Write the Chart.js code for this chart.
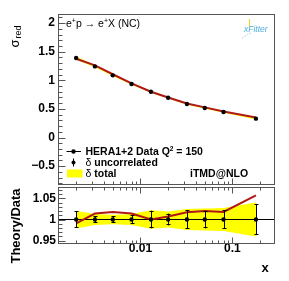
<!DOCTYPE html>
<html><head><meta charset="utf-8">
<script src="https://cdn.jsdelivr.net/npm/chart.js@4.4.0/dist/chart.umd.min.js"></script>
<style>
html,body{margin:0;padding:0;background:#fff;}
#wrap{position:relative;width:289px;height:281px;}
canvas{position:absolute;left:0;top:0;display:block;}
</style></head><body>
<div id="wrap">
<canvas id="topc" width="289" height="281"></canvas>
<canvas id="botc" width="289" height="281"></canvas>
</div>
<script>
// ---- data ----
const xValues     = [0.002, 0.0032, 0.005, 0.008, 0.013, 0.02, 0.032, 0.05, 0.08, 0.18];
const sigmaData   = [1.39, 1.244, 1.087, 0.935, 0.80, 0.696, 0.586, 0.517, 0.447, 0.33];
const theoryRatio = [0.991, 1.014, 1.018, 1.014, 1.000, 1.007, 1.017, 1.020, 1.018, 1.057];
const relUncorr   = [0.019, 0.008, 0.008, 0.011, 0.021, 0.014, 0.022, 0.021, 0.022, 0.037];
const relTotal    = [0.021, 0.013, 0.011, 0.013, 0.022, 0.019, 0.025, 0.026, 0.027, 0.040];
const topYTicks   = [-0.5, 0, 0.5, 1, 1.5, 2];
const topYLabels  = ['\u22120.5', '0', '0.5', '1', '1.5', '2'];
const ratioYTicks = [0.95, 1, 1.05];
const ratioYLabels= ['0.95', '1', '1.05'];
const xTicks      = [0.01, 0.1];
const xTickLabels = ['0.01', '0.1'];

const X_MIN = 0.00127, X_MAX = 0.29;
const TOP_MIN = -0.83, TOP_MAX = 2.16;
const R_MIN = 0.942, R_MAX = 1.077;

const FONT = '"Liberation Sans", Arial, Helvetica, sans-serif';
const RED = '#b01818', YEL = '#ffff00';

function pts(ys){ return xValues.map((x,i)=>({x, y: ys[i]})); }

function minorLinear(min,max,step){
  const out=[]; const s=Math.ceil(min/step-1e-9), e=Math.floor(max/step+1e-9);
  for(let i=s;i<=e;i++) out.push(+(i*step).toFixed(6)); return out;
}
function isMajor(v,m){ return Math.abs(v/m-Math.round(v/m))<1e-6; }
function logTicks(min,max){
  const out=[];
  for(let d=Math.floor(Math.log10(min)); d<=Math.ceil(Math.log10(max)); d++)
    for(let k=1;k<=9;k++){ const v=k*Math.pow(10,d); if(v>=min&&v<=max) out.push({v,major:k===1}); }
  return out;
}

const framePlugin = {
  id:'frame',
  afterDraw(chart, args, o){
    const {ctx, chartArea:a} = chart; const x=chart.scales.x, y=chart.scales.y;
    ctx.save();
    ctx.strokeStyle='#555'; ctx.lineWidth=1;
    const L=Math.round(a.left)+0.5, R=Math.round(a.right)-0.5, T=Math.round(a.top)+0.5, B=Math.round(a.bottom)-0.5;
    ctx.strokeRect(L,T,R-L,B-T);
    ctx.beginPath();
    minorLinear(y.min,y.max,o.minorStep).forEach(v=>{
      const py=Math.round(y.getPixelForValue(v))+0.5; const len=isMajor(v,o.majorStep)?7:4;
      ctx.moveTo(L,py); ctx.lineTo(L+len,py);
    });
    logTicks(x.min,x.max).forEach(t=>{
      const px=Math.round(x.getPixelForValue(t.v))+0.5; const len=t.major?6:3;
      if(o.xBottom){ ctx.moveTo(px,B); ctx.lineTo(px,B-len); }
      if(o.xTop){ ctx.moveTo(px,T); ctx.lineTo(px,T+len); }
    });
    ctx.stroke();
    ctx.restore();
  }
};

function yAxis(min,max,ticks,labels,pad){
  return {
    type:'linear', min, max, bounds:'data',
    afterBuildTicks: s => { s.ticks = ticks.map(v=>({value:v})); },
    afterFit: s => { s.width = 58; },
    grid:{display:false, drawTicks:false}, border:{display:false},
    ticks:{ autoSkip:false, padding:pad, color:'#000',
      font:{family:FONT, size:12, weight:'bold'},
      callback: v => labels[ticks.indexOf(v)] }
  };
}

// ---------- top panel ----------
const topText = {
  id:'topText',
  afterDraw(chart){
    const ctx=chart.ctx; ctx.save(); ctx.fillStyle='#000'; ctx.textBaseline='alphabetic';
    let xx=66; const by=27;
    const F='10.5px '+FONT, S='7px '+FONT;
    const seg=(t,f,dy)=>{ ctx.font=f; ctx.fillText(t,xx,by+dy); xx+=ctx.measureText(t).width; };
    seg('e',F,0); seg('+',S,-4); seg('p \u2192 e',F,0); seg('+',S,-4); seg('X (NC)',F,0);

    ctx.save(); ctx.translate(19,47.5); ctx.rotate(-Math.PI/2);
    ctx.font='13px '+FONT; ctx.fillText('\u03c3',0,0);
    const w=ctx.measureText('\u03c3').width;
    ctx.font='9px '+FONT; ctx.fillText('red',w+1,1.5);
    ctx.restore();

    ctx.save();
    ctx.strokeStyle='#f2cf3a'; ctx.lineWidth=1.2;
    ctx.beginPath(); ctx.moveTo(249.5,19); ctx.lineTo(249.5,27); ctx.stroke();
    ctx.strokeStyle='#8cc8ec'; ctx.setLineDash([1.5,1.5]); ctx.lineWidth=1;
    ctx.beginPath(); ctx.moveTo(251,33); ctx.quadraticCurveTo(246,35,242,38.5); ctx.stroke();
    ctx.setLineDash([]);
    ctx.fillStyle='#4eaede'; ctx.font='italic 8.5px '+FONT;
    ctx.fillText('xFitter',244,32);
    ctx.restore();

    ctx.strokeStyle='#000'; ctx.fillStyle='#000'; ctx.lineWidth=1;
    ctx.beginPath(); ctx.moveTo(66.5,151.5); ctx.lineTo(81,151.5); ctx.stroke();
    ctx.beginPath(); ctx.arc(73.5,151.5,2.2,0,Math.PI*2); ctx.fill();
    ctx.beginPath(); ctx.moveTo(73.5,158.5); ctx.lineTo(73.5,166.5); ctx.stroke();
    ctx.beginPath(); ctx.arc(73.5,162.5,2,0,Math.PI*2); ctx.fill();
    ctx.fillStyle=YEL; ctx.fillRect(67,169.5,15.5,8);
    ctx.fillStyle='#000';
    const LB='bold 10.5px '+FONT, LR='10.5px '+FONT;
    xx=85.5;
    const lseg=(t,f,y0,dy)=>{ ctx.font=f; ctx.fillText(t,xx,y0+(dy||0)); xx+=ctx.measureText(t).width; };
    lseg('HERA1+2 Data Q',LB,155); lseg('2','bold 6.5px '+FONT,155,-4.5); lseg(' = 150',LB,155);
    xx=85.5; lseg('\u03b4',LR,166); lseg(' uncorrelated',LB,166);
    xx=85.5; lseg('\u03b4',LR,177); lseg(' total',LB,177);
    ctx.font=LB; ctx.fillText('iTMD@NLO',190,177);
    ctx.restore();
  }
};

new Chart(document.getElementById('topc'), {
  type:'line',
  data:{ datasets:[
    { data:pts(sigmaData), showLine:false, pointRadius:2.2, pointBackgroundColor:'#000', pointBorderWidth:0 },
    { data:pts(sigmaData.map((s,i)=>s*theoryRatio[i])), borderColor:RED, borderWidth:2, pointRadius:0, fill:false },
    { data:pts(sigmaData.map((s,i)=>s*(1+relTotal[i]))), borderWidth:0, pointRadius:0, fill:'+1', backgroundColor:YEL },
    { data:pts(sigmaData.map((s,i)=>s*(1-relTotal[i]))), borderWidth:0, pointRadius:0, fill:false }
  ]},
  options:{
    responsive:false, animation:false, events:[],
    layout:{padding:{left:0, top:14, right:14, bottom:96}},
    elements:{line:{tension:0}},
    plugins:{ legend:{display:false}, tooltip:{enabled:false},
      frame:{minorStep:0.1, majorStep:0.5, xBottom:true, xTop:false} },
    scales:{
      x:{ type:'logarithmic', min:X_MIN, max:X_MAX, bounds:'data', display:false },
      y: yAxis(TOP_MIN, TOP_MAX, topYTicks, topYLabels, 3)
    }
  },
  plugins:[framePlugin, topText]
});

// ---------- ratio panel ----------
const botText = {
  id:'botText',
  beforeDatasetDraw(chart, args){
    if(args.index!==0) return;
    const ctx=chart.ctx, x=chart.scales.x, y=chart.scales.y;
    ctx.save(); ctx.strokeStyle='#000'; ctx.lineWidth=1; ctx.beginPath();
    xValues.forEach((xv,i)=>{
      const px=Math.round(x.getPixelForValue(xv))+0.5;
      const y1=y.getPixelForValue(1+relUncorr[i]), y2=y.getPixelForValue(1-relUncorr[i]);
      ctx.moveTo(px,y1); ctx.lineTo(px,y2);
      ctx.moveTo(px-2,Math.round(y1)+0.5); ctx.lineTo(px+2,Math.round(y1)+0.5);
      ctx.moveTo(px-2,Math.round(y2)-0.5); ctx.lineTo(px+2,Math.round(y2)-0.5);
    });
    ctx.stroke(); ctx.restore();
  },
  afterDraw(chart){
    const ctx=chart.ctx; ctx.save(); ctx.fillStyle='#000';
    ctx.save(); ctx.translate(20,226); ctx.rotate(-Math.PI/2);
    ctx.font='bold 13px '+FONT; ctx.textAlign='center'; ctx.textBaseline='alphabetic';
    ctx.fillText('Theory/Data',0,0);
    ctx.restore();
    ctx.font='bold 13px '+FONT; ctx.textAlign='center'; ctx.textBaseline='alphabetic';
    ctx.fillText('x',265,272);
    ctx.restore();
  }
};

new Chart(document.getElementById('botc'), {
  type:'line',
  data:{ datasets:[
    { data:pts(xValues.map(()=>1)), showLine:false, pointRadius:2.2, pointBackgroundColor:'#000', pointBorderWidth:0 },
    { data:pts(theoryRatio), borderColor:RED, borderWidth:2, pointRadius:0, fill:false },
    { data:[{x:X_MIN,y:1},{x:X_MAX,y:1}], borderColor:'#000', borderWidth:1, pointRadius:0, fill:false },
    { data:pts(relTotal.map(t=>1+t)), borderWidth:0, pointRadius:0, fill:'+1', backgroundColor:YEL },
    { data:pts(relTotal.map(t=>1-t)), borderWidth:0, pointRadius:0, fill:false }
  ]},
  options:{
    responsive:false, animation:false, events:[],
    layout:{padding:{left:0, top:187, right:14, bottom:0}},
    elements:{line:{tension:0}},
    plugins:{ legend:{display:false}, tooltip:{enabled:false},
      frame:{minorStep:0.01, majorStep:0.05, xBottom:true, xTop:true} },
    scales:{
      x:{ type:'logarithmic', min:X_MIN, max:X_MAX, bounds:'data',
          afterBuildTicks: s => { s.ticks = xTicks.map(v=>({value:v})); },
          afterFit: s => { s.height = 37; },
          grid:{display:false, drawTicks:false}, border:{display:false},
          ticks:{ autoSkip:false, maxRotation:0, padding:-2.5, color:'#000',
            font:{family:FONT, size:12, weight:'bold'},
            callback: v => xTickLabels[xTicks.indexOf(v)] } },
      y: yAxis(R_MIN, R_MAX, ratioYTicks, ratioYLabels, 2)
    }
  },
  plugins:[framePlugin, botText]
});
</script>
</body></html>
